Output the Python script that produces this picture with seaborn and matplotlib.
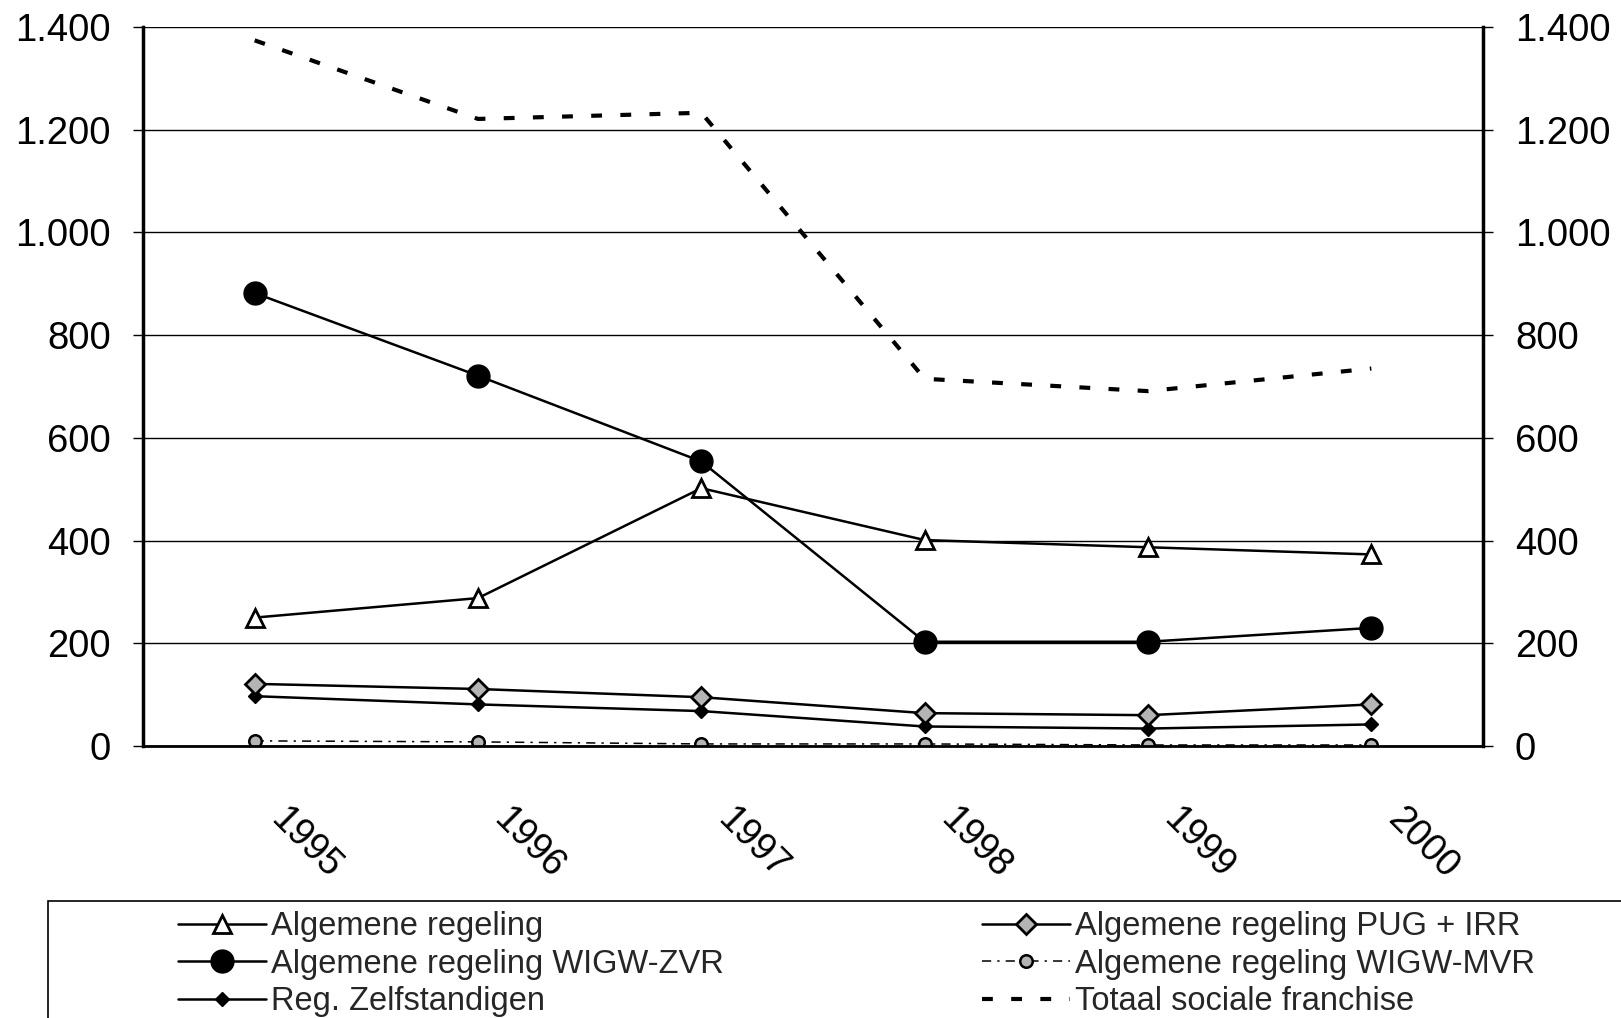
import matplotlib
matplotlib.use("Agg")
import matplotlib.pyplot as plt
import seaborn as sns
from matplotlib.patches import Rectangle
from matplotlib.ticker import FuncFormatter
from matplotlib.transforms import ScaledTranslation

# Data
years = [1995, 1996, 1997, 1998, 1999, 2000]
alg_regeling = [250, 288, 502, 401, 387, 373]
alg_wigw_zvr = [882, 721, 554, 203, 203, 230]
reg_zelfstandigen = [97, 81, 68, 38, 34, 42]
alg_pug_irr = [121, 111, 95, 64, 60, 81]
alg_wigw_mvr = [10, 8, 4, 4, 2, 2]
totaal = [1374, 1221, 1233, 715, 691, 735]

y_ticks = [0, 200, 400, 600, 800, 1000, 1200, 1400]

sns.set_theme(style="white")
plt.rcParams["font.family"] = ["Liberation Sans", "DejaVu Sans"]

fig = plt.figure(figsize=(16.21, 10.18), dpi=100, facecolor="white")
ax = fig.add_axes([143 / 1621, 1 - 746 / 1018, (1483 - 143) / 1621, (746 - 27) / 1018])

lw = 1.8
sns.lineplot(x=years, y=alg_regeling, ax=ax, color="black", lw=lw, marker="^",
             markersize=13, markerfacecolor="white", markeredgecolor="black",
             markeredgewidth=2, label="Algemene regeling")
sns.lineplot(x=years, y=alg_wigw_zvr, ax=ax, color="black", lw=lw, marker="o",
             markersize=16.5, markerfacecolor="black", markeredgecolor="black",
             markeredgewidth=1, label="Algemene regeling WIGW-ZVR")
sns.lineplot(x=years, y=reg_zelfstandigen, ax=ax, color="black", lw=lw, marker="D",
             markersize=7, markerfacecolor="black", markeredgecolor="black",
             markeredgewidth=1, label="Reg. Zelfstandigen")
sns.lineplot(x=years, y=alg_pug_irr, ax=ax, color="black", lw=lw, marker="D",
             markersize=10, markerfacecolor="#b4b4b4", markeredgecolor="black",
             markeredgewidth=2, label="Algemene regeling PUG + IRR")
sns.lineplot(x=years, y=alg_wigw_mvr, ax=ax, color="black", lw=1.1,
             linestyle=(0, (6, 4, 1.5, 4)), marker="o", markersize=9,
             markerfacecolor="#b4b4b4", markeredgecolor="black",
             markeredgewidth=1.8, label="Algemene regeling WIGW-MVR")
sns.lineplot(x=years, y=totaal, ax=ax, color="black", lw=3,
             linestyle=(0, (2.6, 4.4)), label="Totaal sociale franchise")

handles, labels = ax.get_legend_handles_labels()
if ax.get_legend() is not None:
    ax.get_legend().remove()

# axes styling
ax.set_xlim(1994.5, 2000.5)
ax.set_ylim(0, 1400)
ax.set_yticks(y_ticks)
ax.yaxis.set_major_formatter(FuncFormatter(lambda v, p: f"{int(v):,}".replace(",", ".")))
ax.grid(axis="y", color="black", lw=1)
ax.grid(axis="x", visible=False)
for side in ["left", "right"]:
    ax.spines[side].set_linewidth(2.5)
    ax.spines[side].set_color("black")
ax.spines["bottom"].set_linewidth(2)
ax.spines["bottom"].set_color("black")
ax.spines["top"].set_visible(False)

ax.tick_params(axis="y", which="both", left=True, right=True, labelleft=True,
               labelright=True, length=7, width=1, color="black", pad=16,
               labelsize=27.5, labelcolor="black")
ax.set_xticks(years)
ax.set_xticklabels([str(y) for y in years])
ax.tick_params(axis="x", length=0, pad=70, labelsize=27, labelcolor="black")
offset = ScaledTranslation(0.51, 0, fig.dpi_scale_trans)
for lab in ax.get_xticklabels():
    lab.set_rotation(-45)
    lab.set_ha("center")
    lab.set_va("center")
    lab.set_rotation_mode("anchor")
    lab.set_transform(lab.get_transform() + offset)

# legend box running off the page, entries in two columns
fig.patches.append(Rectangle((48 / 1621, -0.1), 1.2, 0.1 + 1 - 901 / 1018,
                             transform=fig.transFigure, fill=False,
                             edgecolor="black", lw=1.2, clip_on=False))
leg_kw = dict(loc="upper left", frameon=False, borderpad=0, handlelength=2.7,
              handletextpad=0.15, labelspacing=0.2, fontsize=23.5, borderaxespad=0)
fig.legend(handles[:3], labels[:3], bbox_to_anchor=(178 / 1621, 1 - 911 / 1018), **leg_kw)
fig.legend(handles[3:], labels[3:], bbox_to_anchor=(982 / 1621, 1 - 911 / 1018), **leg_kw)

fig.savefig("out.png", dpi=100, facecolor="white")
